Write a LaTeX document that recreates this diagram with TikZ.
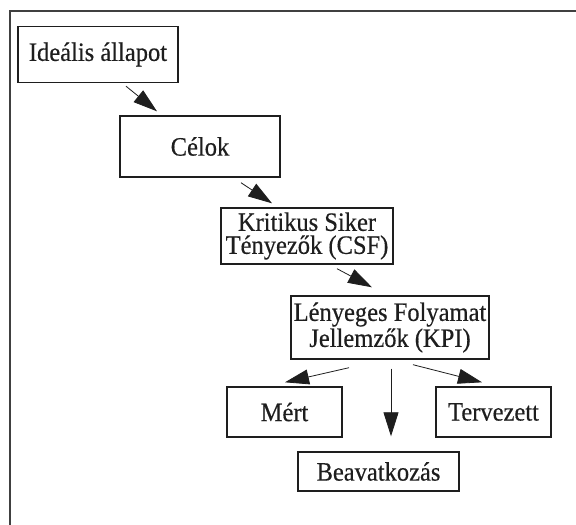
\documentclass[tikz,border=0pt]{standalone}
\usepackage{fontspec}
\setmainfont{Liberation Serif}[FakeStretch=0.925,FakeBold=0.4]
\usetikzlibrary{arrows.meta,calc}
\definecolor{ink}{HTML}{1E1E1E}
\begin{document}
\begin{tikzpicture}[x=1pt,y=-1pt,
  box/.style={draw=ink,line width=1.4pt,inner sep=0pt,align=center,text=ink,
    font=\fontsize{26.5}{23}\selectfont},
  link/.style={draw=ink,line width=0.8pt,
    -{Triangle[length=24pt,width=15pt]}}]
\useasboundingbox (0,0) rectangle (576,525);
\fill[white] (0,0) rectangle (576,525);
% outer frame (only top and left edges fall inside the page)
\draw[ink!85,line width=2pt] (10,530) -- (10,11) -- (580,11);

\node[box,minimum width=160pt,minimum height=56pt] (ideal) at (98,54.5) {Ideális állapot};
\node[box,minimum width=160pt,minimum height=61pt] (celok) at (200,146.5) {Célok};
\node[box,minimum width=172pt,minimum height=56pt] (csf) at (307,236) {Kritikus Siker\\Tényezők (CSF)};
\node[box,minimum width=198pt,minimum height=63pt,font=\fontsize{26.5}{26}\selectfont]
  (kpi) at (390,327.5) {Lényeges Folyamat\\Jellemzők (KPI)};
\node[box,minimum width=115pt,minimum height=50pt] (mert) at (284.5,412) {Mért};
\node[box,minimum width=115pt,minimum height=50pt] (terv) at (493.5,412) {Tervezett};
\node[box,minimum width=161pt,minimum height=39pt] (beav) at (378.5,471.5) {Beavatkozás};

\draw[link] ($(ideal.south)+(28,3)$) -- ($(celok.north)+(-43,-4)$);
\draw[link] ($(celok.south)+(41,5)$) -- ($(csf.north)+(-35,-4)$);
\draw[link] ($(csf.south)+(30,4)$) -- ($(kpi.north)+(-18,-8)$);
\draw[link] ($(kpi.south)+(-41,8)$) -- ($(mert.north)+(0.5,-4)$);
\draw[link] ($(kpi.south)+(1,9)$) -- ($(beav.north)+(12.5,-15)$);
\draw[link] ($(kpi.south)+(23,5)$) -- ($(terv.north)+(-11.5,-4)$);
\end{tikzpicture}
\end{document}
